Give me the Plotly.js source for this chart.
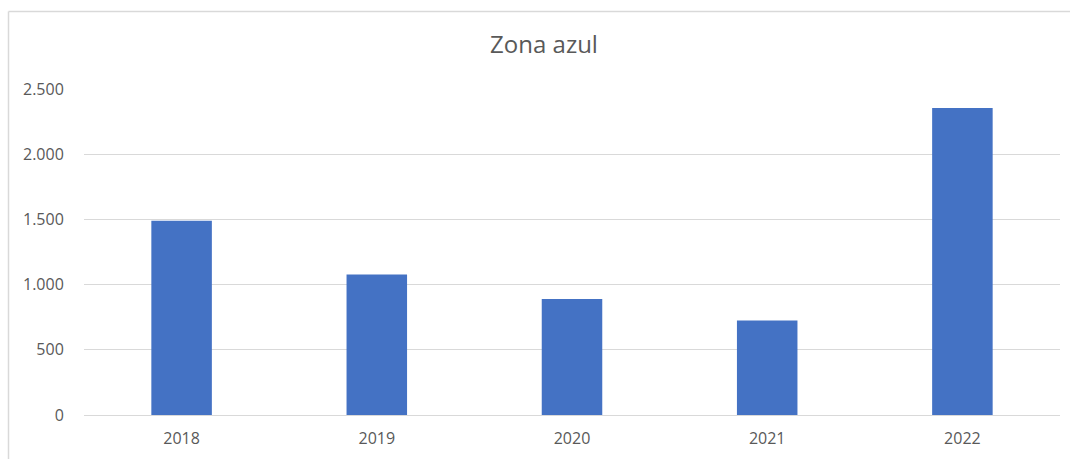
<!DOCTYPE html>
<html>
<head>
<meta charset="utf-8">
<script src="https://cdn.plot.ly/plotly-3.0.1.min.js"></script>
<style>
html,body{margin:0;padding:0;background:#fff;}
#chart{width:1070px;height:459px;}
</style>
</head>
<body>
<div id="chart"></div>
<script>
const years = ['2018', '2019', '2020', '2021', '2022'];
const values = [1490, 1077, 890, 725, 2355];
const yTicks = [0, 500, 1000, 1500, 2000, 2500];
const chartTitle = 'Zona azul';

const fontFamily = '"Open Sans", sans-serif';
const textColor = '#595959';

Plotly.newPlot('chart', [{
  type: 'bar',
  x: years,
  y: values,
  marker: {color: '#4472C4'},
  hoverinfo: 'x+y'
}], {
  width: 1070,
  height: 459,
  margin: {l: 84, r: 10, t: 89, b: 44},
  paper_bgcolor: '#ffffff',
  plot_bgcolor: '#ffffff',
  separators: ',.',
  bargap: 0.69,
  showlegend: false,
  title: {
    text: chartTitle,
    x: 544/1070, xref: 'container', xanchor: 'center',
    y: 1 - 45/459, yref: 'container', yanchor: 'middle',
    font: {family: fontFamily, size: 24, color: textColor}
  },
  xaxis: {
    type: 'category',
    showgrid: false,
    showline: false,
    zeroline: false,
    ticks: 'outside', ticklen: 9, tickcolor: 'rgba(0,0,0,0)',
    tickfont: {family: fontFamily, size: 16, color: textColor}
  },
  yaxis: {
    range: [0, 2500],
    tickvals: yTicks,
    tickformat: ',',
    showgrid: true,
    gridcolor: '#d9d9d9',
    gridwidth: 1,
    zeroline: true,
    zerolinecolor: '#d9d9d9',
    zerolinewidth: 1,
    showline: false,
    ticks: 'outside', ticklen: 16, tickcolor: 'rgba(0,0,0,0)',
    tickfont: {family: fontFamily, size: 16, color: textColor}
  },
  shapes: [
    {type: 'line', xref: 'paper', yref: 'paper',
     x0: (8.5-84)/976, x1: (1075-84)/976, y0: (415-11.5)/326, y1: (415-11.5)/326,
     line: {color: '#d9d9d9', width: 1.5}},
    {type: 'line', xref: 'paper', yref: 'paper',
     x0: (8.5-84)/976, x1: (8.5-84)/976, y0: (415-11.5)/326, y1: (415-465)/326,
     line: {color: '#d9d9d9', width: 1.5}}
  ]
}, {displayModeBar: false, staticPlot: true});
</script>
</body>
</html>
